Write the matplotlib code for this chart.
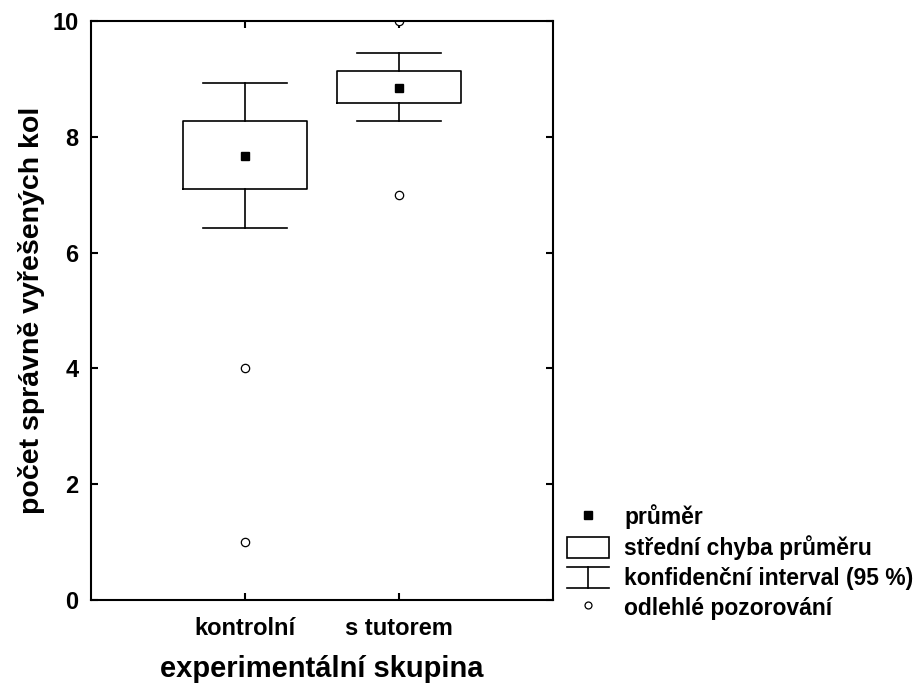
import matplotlib
matplotlib.use('Agg')
import matplotlib.pyplot as plt
from matplotlib.legend_handler import HandlerBase
from matplotlib.lines import Line2D
from matplotlib.patches import Rectangle

# hodnoty
skupiny = ['kontrolní', 's tutorem']
prumer = [7.67, 8.84]
se_dolni = [7.10, 8.58]
se_horni = [8.27, 9.14]
ci_dolni = [6.42, 8.28]
ci_horni = [8.93, 9.45]
odlehle = [[4, 1], [10, 7]]

plt.rcParams['font.family'] = ['Liberation Sans', 'DejaVu Sans']
plt.rcParams['font.weight'] = 'bold'


class HandlerBox(HandlerBase):
    def create_artists(self, legend, orig_handle, xdescent, ydescent,
                       width, height, fontsize, trans):
        r = Rectangle((-xdescent, -ydescent), width, height, facecolor='white',
                      edgecolor='black', linewidth=1.2, transform=trans)
        return [r]


class HandlerCI(HandlerBase):
    def create_artists(self, legend, orig_handle, xdescent, ydescent,
                       width, height, fontsize, trans):
        x0, y0 = -xdescent, -ydescent
        kw = dict(color='black', linewidth=1.2, transform=trans)
        return [Line2D([x0, x0 + width], [y0 + height, y0 + height], **kw),
                Line2D([x0 + width / 2, x0 + width / 2], [y0, y0 + height], **kw),
                Line2D([x0, x0 + width], [y0, y0], **kw)]


fig = plt.figure(figsize=(9.15, 6.84), dpi=100)
ax = fig.add_axes([0.0995, 0.1228, 0.5049, 0.8465])

stats = []
for i in range(len(skupiny)):
    stats.append(dict(label=skupiny[i], mean=prumer[i], med=prumer[i],
                      q1=se_dolni[i], q3=se_horni[i],
                      whislo=ci_dolni[i], whishi=ci_horni[i],
                      fliers=odlehle[i]))

line = dict(color='black', linewidth=1.2)
ax.bxp(stats, positions=[1, 2], widths=0.8, capwidths=0.54, showmeans=True,
       boxprops=line, whiskerprops=line, capprops=line,
       medianprops=dict(linestyle='none'),
       meanprops=dict(marker='s', markerfacecolor='black', markeredgecolor='black',
                      markersize=6),
       flierprops=dict(marker='o', markerfacecolor='white', markeredgecolor='black',
                       markersize=6, markeredgewidth=0.9))

ax.set_xlim(0, 3)
ax.set_ylim(0, 10)
ax.set_yticks([0, 2, 4, 6, 8, 10])
ax.set_xticks([1, 2], skupiny)
ax.tick_params(direction='in', top=True, right=True, length=5, width=1.5,
               labelsize=17)
ax.tick_params(axis='y', pad=9)
ax.tick_params(axis='x', pad=12)
for s in ax.spines.values():
    s.set_linewidth(1.5)

ax.set_ylabel('počet správně vyřešených kol', fontsize=20.5, fontweight='bold',
              labelpad=5)
ax.set_xlabel('experimentální skupina', fontsize=21, fontweight='bold', labelpad=11)

h_mean = Line2D([], [], marker='s', color='black', linestyle='none', markersize=6)
h_box = Rectangle((0, 0), 1, 1)
h_ci = Line2D([], [])
h_out = Line2D([], [], marker='o', markerfacecolor='white', markeredgecolor='black',
               linestyle='none', markersize=5, markeredgewidth=0.9)
fig.legend([h_mean, h_box, h_ci, h_out],
           ['průměr', 'střední chyba průměru', 'konfidenční interval (95 %)',
            'odlehlé pozorování'],
           handler_map={h_box: HandlerBox(), h_ci: HandlerCI()},
           loc='upper left', bbox_to_anchor=(0.6197, 0.2624), frameon=False,
           borderpad=0, borderaxespad=0, handlelength=1.85,
           handleheight=1.05, handletextpad=0.65, labelspacing=0.27,
           prop=dict(weight='bold', size=16.5))

fig.savefig('out.png', dpi=100)
